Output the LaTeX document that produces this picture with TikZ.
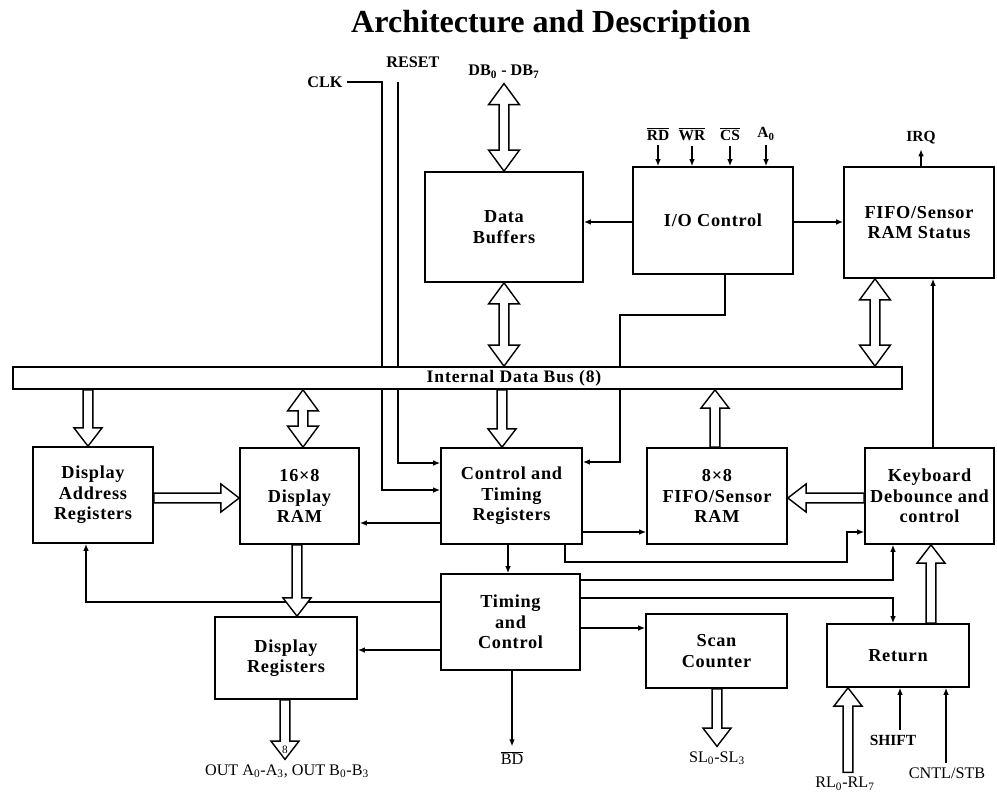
\documentclass[tikz,border=0pt]{standalone}
\usepackage{fontspec}
\setmainfont{Liberation Serif}
\usetikzlibrary{arrows.meta,calc}

\newcommand{\px}{0.025cm}
% hollow bus arrow, head at the second point
\newcommand{\busone}[2]{%
  \draw[fat] let \p1=#1, \p2=#2, \n1={atan2(\y2-\y1,\x2-\x1)}, \n2={veclen(\x2-\x1,\y2-\y1)} in
    [shift={(\p1)},rotate=\n1] (0pt,-3.5pt) -- ({\n2*1pt-13pt},-3.5pt) -- ({\n2*1pt-13pt},-10pt)
    -- ({\n2*1pt},0pt) -- ({\n2*1pt-13pt},10pt) -- ({\n2*1pt-13pt},3.5pt) -- (0pt,3.5pt) -- cycle;}
% hollow bus arrow, heads at both points
\newcommand{\busboth}[2]{%
  \draw[fat] let \p1=#1, \p2=#2, \n1={atan2(\y2-\y1,\x2-\x1)}, \n2={veclen(\x2-\x1,\y2-\y1)} in
    [shift={(\p1)},rotate=\n1] (0pt,0pt) -- (15pt,11pt) -- (15pt,3.5pt) -- ({\n2*1pt-15pt},3.5pt)
    -- ({\n2*1pt-15pt},11pt) -- ({\n2*1pt},0pt) -- ({\n2*1pt-15pt},-11pt) -- ({\n2*1pt-15pt},-3.5pt)
    -- (15pt,-3.5pt) -- (15pt,-11pt) -- cycle;}

\begin{document}
\begin{tikzpicture}[x=\px,y=-\px,
  blk/.style={draw,line width=1.2pt,align=center,inner sep=2pt,
              font=\fontsize{13}{14.6}\selectfont\bfseries\addfontfeatures{LetterSpace=4}},
  lbl/.style={font=\fontsize{11.5}{13}\selectfont},
  pin/.style={font=\fontsize{11.5}{13}\selectfont\bfseries},
  wire/.style={line width=0.9pt,-{Latex[length=5pt,width=4pt]}},
  fat/.style={draw,fill=white,line width=1pt}]
\useasboundingbox (0,0) rectangle (997,794);
\node[font=\fontsize{22.8}{26}\selectfont\bfseries,anchor=base] (title) at (551,33) {Architecture and Description};

% blocks
\node[blk,minimum width=158*\px,minimum height=110*\px] (dbuf) at (504,227) {Data\\Buffers};
\node[blk,minimum width=160*\px,minimum height=107*\px] (ioc) at (713,220.5) {I/O Control};
\node[blk,minimum width=150*\px,minimum height=111*\px] (fsts) at (919,222.5) {FIFO/Sensor\\RAM Status};
\node[blk,minimum width=120*\px,minimum height=96*\px] (dar) at (93,495) {Display\\Address\\Registers};
\node[blk,minimum width=119*\px,minimum height=96*\px] (dram) at (299.5,496) {16×8\\Display\\RAM};
\node[blk,minimum width=141*\px,minimum height=96*\px] (ctr) at (511.5,496) {Control and\\Timing\\Registers};
\node[blk,minimum width=140*\px,minimum height=96*\px] (fram) at (717,496) {8×8\\FIFO/Sensor\\RAM};
\node[blk,minimum width=129*\px,minimum height=96*\px] (kbd) at (929.5,496) {Keyboard\\Debounce and\\control};
\node[blk,minimum width=139*\px,minimum height=96*\px] (tim) at (510.5,622) {Timing\\and\\Control};
\node[blk,minimum width=142*\px,minimum height=82*\px] (dreg) at (286,658) {Display\\Registers};
\node[blk,minimum width=141*\px,minimum height=74*\px] (scan) at (716.5,651) {Scan\\Counter};
\node[blk,minimum width=142*\px,minimum height=63*\px] (ret) at (898,655.5) {Return};

% pins
\node[pin] (clk) at (325,82) {CLK};
\node[pin] (rst) at (413,62) {RESET};
\coordinate (rstin) at (398,82);
\node[pin] (dbl) at (504,72) {DB\textsubscript{0} - DB\textsubscript{7}};
\node[pin,font=\fontsize{11}{13}\selectfont\bfseries] (rd) at (658,134) {$\overline{\mbox{RD}}$};
\node[pin,font=\fontsize{11}{13}\selectfont\bfseries] (wr) at (692,134) {$\overline{\mbox{WR}}$};
\node[pin,font=\fontsize{11}{13}\selectfont\bfseries] (cs) at (730,134) {$\overline{\mbox{CS}}$};
\node[pin,font=\fontsize{11}{13}\selectfont\bfseries] (a0) at (766,134) {A\textsubscript{0}};
\node[pin,font=\fontsize{11}{13}\selectfont\bfseries] (irq) at (921,138) {IRQ};
\node[lbl] (out) at (287,771) {OUT A\textsubscript{0}-A\textsubscript{3}, OUT B\textsubscript{0}-B\textsubscript{3}};
\node[lbl] (bd) at (512,758) {$\overline{\mbox{BD}}$};
\node[lbl] (sl) at (717,758) {SL\textsubscript{0}-SL\textsubscript{3}};
\node[lbl] (rl) at (845,784) {RL\textsubscript{0}-RL\textsubscript{7}};
\node[pin,font=\fontsize{11}{13}\selectfont\bfseries] (shft) at (893,740) {SHIFT};
\node[lbl] (cntl) at (947,773) {CNTL/STB};

% control lines
\draw[wire] (ioc.west |- 0,222) -- (dbuf.east |- 0,222);
\draw[wire] (ioc.east |- 0,222) -- (fsts.west |- 0,222);
\foreach \p in {rd,wr,cs,a0} \draw[wire] (\p.south) -- (\p.south |- ioc.north);
\draw[wire] (irq.south |- fsts.north) -- (irq.south);
\draw[wire] (kbd.north -| 933,0) -- (fsts.south -| 933,0);
\draw[wire] (clk.east) -| (382,490) -- (ctr.west |- 0,490);
\draw[wire] (rstin) -- (398,463) -- (ctr.west |- 0,463);
\draw[wire] (ioc.south -| 725,0) -- (725,315) -- (620,315) -- (620,462) -- (ctr.east |- 0,462);
\draw[wire] (ctr.west |- 0,523) -- (dram.east |- 0,523);
\draw[wire] (ctr.east |- 0,532) -- (fram.west |- 0,532);
\draw[wire] (ctr.south -| 565,0) -- (565,562) -- (847,562) -- (847,532) -- (kbd.west |- 0,532);
\draw[wire] (ctr.south -| 508,0) -- (tim.north -| 508,0);
\draw[wire] (tim.east |- 0,580) -- (893,580) -- (kbd.south -| 893,0);
\draw[wire] (tim.east |- 0,598) -- (893,598) -- (ret.north -| 893,0);
\draw[wire] (tim.east |- 0,628) -- (scan.west |- 0,628);
\draw[wire] (tim.west |- 0,650) -- (dreg.east |- 0,650);
\draw[wire] (tim.west |- 0,602) -- (86,602) -- (dar.south -| 86,0);
\draw[wire] (tim.south -| 512,0) -- (bd.north);
\draw[wire] (shft.north -| 900,0) -- (ret.south -| 900,0);
\draw[wire] (cntl.north -| 946,0) -- (ret.south -| 946,0);

% internal bus
\node[draw,fill=white,line width=1.2pt,minimum width=889*\px,minimum height=22*\px] (bus) at (457.5,378) {};
\node[font=\fontsize{12.5}{14}\selectfont\bfseries\addfontfeatures{LetterSpace=5}] (buslbl) at (514,378) {Internal Data Bus (8)};

% bus arrows
\busboth{(dbl.south)}{(dbuf.north)}
\busboth{(dbuf.south)}{(dbuf.south |- bus.north)}
\busboth{(fsts.south -| 875,0)}{(bus.north -| 875,0)}
\busone{(bus.south -| 88,0)}{(dar.north -| 88,0)}
\busboth{(bus.south -| 303,0)}{(dram.north -| 303,0)}
\busone{(bus.south -| 502,0)}{(ctr.north -| 502,0)}
\busone{(fram.north -| 715,0)}{(bus.south -| 715,0)}
\busone{(dar.east |- 0,498)}{(dram.west |- 0,498)}
\busone{(kbd.west |- 0,498)}{(fram.east |- 0,498)}
\busone{(dram.south -| 297,0)}{(dreg.north -| 297,0)}
\busone{(dreg.south -| 285,0)}{(out.north -| 285,0)}
\busone{(scan.south -| 717,0)}{(sl.north)}
\busone{(ret.north -| 931,0)}{(kbd.south -| 931,0)}
\busone{(rl.north -| 848,0)}{(ret.south -| 848,0)}
\node[font=\fontsize{8}{9}\selectfont] (eight) at (285,750) {8};
\end{tikzpicture}
\end{document}
